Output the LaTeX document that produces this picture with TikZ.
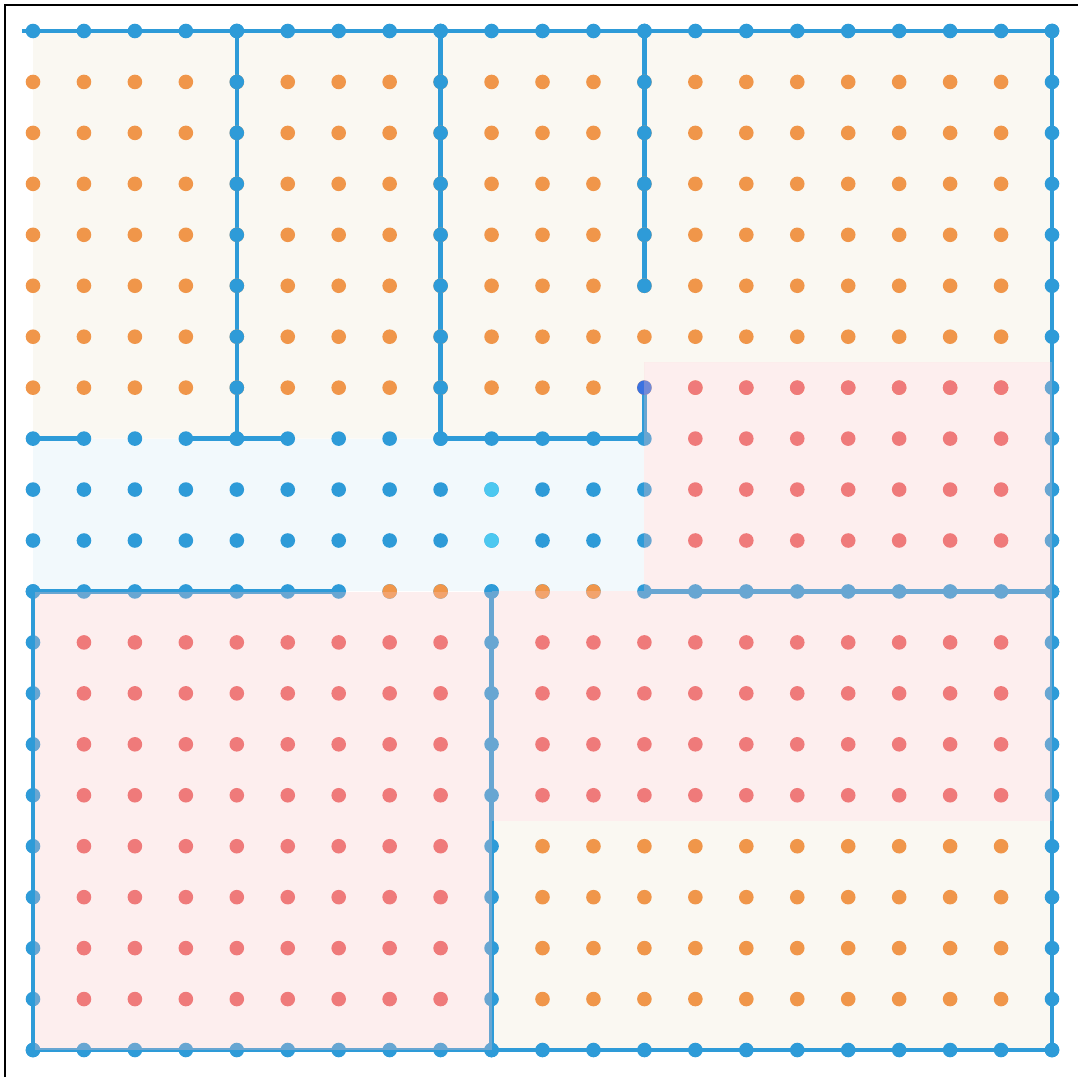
\documentclass[tikz,border=0pt]{standalone}
\usetikzlibrary{calc}
\definecolor{wall}{HTML}{2E9BD8}
\definecolor{org}{HTML}{F0964A}
\definecolor{redd}{HTML}{EC5C5C}
\definecolor{cyand}{HTML}{4CC8F0}
\definecolor{midb}{HTML}{3A72E0}
\definecolor{cream}{HTML}{FAF8F2}
\definecolor{iceb}{HTML}{F2F9FC}
\definecolor{pinkov}{RGB}{248,196,196}
\tikzset{
  wallline/.style={draw=wall, line width=2.3pt, line join=miter, line cap=butt},
  frameline/.style={draw=black, line width=1pt},
  crfill/.style={fill=cream},
  icefill/.style={fill=iceb},
  pinkfill/.style={fill=pinkov, fill opacity=0.29},
}
\newcommand{\dotrow}[4]{% color, row, col from, col to
  \foreach \c in {#3,...,#4} {\fill[#1] (\c,#2) circle[radius=3.65pt];}}
\newcommand{\wdot}[2]{\fill[wall] (#1,#2) circle[radius=3.65pt];}
\begin{document}
\begin{tikzpicture}[x=25.475pt, y=-25.475pt]
\useasboundingbox (-0.6477,-0.6084) rectangle (20.510,20.530);
% outer frame (top and left edges)
\coordinate (fbl) at (-0.55,20.53);
\coordinate (ftl) at (-0.55,-0.52);
\coordinate (ftr) at (20.51,-0.52);
\draw[frameline] (fbl) -- (ftl) -- (ftr);
% background fills
\fill[crfill] (0,0) -- (20,0) -- (20,6.5) -- (12,6.5) -- (12,8) -- (0,8) -- cycle;
\fill[icefill] (0,8) rectangle (12,11);
\fill[crfill] (9,15.5) rectangle (20,20);
% walls
\coordinate (start) at (-0.216,0);
\draw[wallline] (start) -- (20,0) -- (20,20) -- (0,20) -- (0,11) -- (6,11);
\draw[wallline] (4,0) -- (4,8);
\draw[wallline] (8,0) -- (8,8);
\draw[wallline] (12,0) -- (12,5);
\draw[wallline] (12,7) -- (12,8);
\draw[wallline] (0,8) -- (1,8);
\draw[wallline] (3,8) -- (5,8);
\draw[wallline] (8,8) -- (12,8);
\draw[wallline] (12,11) -- (20,11);
\draw[wallline] (9,11) -- (9,20);
% dots
\foreach \r in {1,...,7} {\dotrow{org}{\r}{0}{19}}
\dotrow{redd}{7}{13}{19}
\foreach \r in {8,9,10} {\dotrow{wall}{\r}{0}{12}\dotrow{redd}{\r}{13}{19}}
\dotrow{wall}{11}{0}{20}
\dotrow{org}{11}{7}{8}
\dotrow{org}{11}{10}{11}
\foreach \r in {12,...,19} {\dotrow{redd}{\r}{1}{8}}
\foreach \r in {12,...,15} {\dotrow{redd}{\r}{10}{19}}
\foreach \r in {16,...,19} {\dotrow{org}{\r}{10}{19}}
% wall dots
\dotrow{wall}{0}{0}{20}
\dotrow{wall}{20}{0}{20}
\foreach \r in {0,...,20} {\wdot{20}{\r}}
\foreach \r in {11,...,20} {\wdot{0}{\r}\wdot{9}{\r}}
\foreach \r in {0,...,8} {\wdot{4}{\r}\wdot{8}{\r}}
\foreach \r in {0,...,5} {\wdot{12}{\r}}
\fill[cyand] (9,9) circle[radius=3.65pt];
\fill[cyand] (9,10) circle[radius=3.65pt];
\fill[midb] (12,7) circle[radius=3.65pt];
% pink overlays
\fill[pinkfill] (12,6.5) rectangle (20,11);
\fill[pinkfill] (9,11) rectangle (20,15.5);
\fill[pinkfill] (0.04,11.02) rectangle (9,20);
\end{tikzpicture}
\end{document}
